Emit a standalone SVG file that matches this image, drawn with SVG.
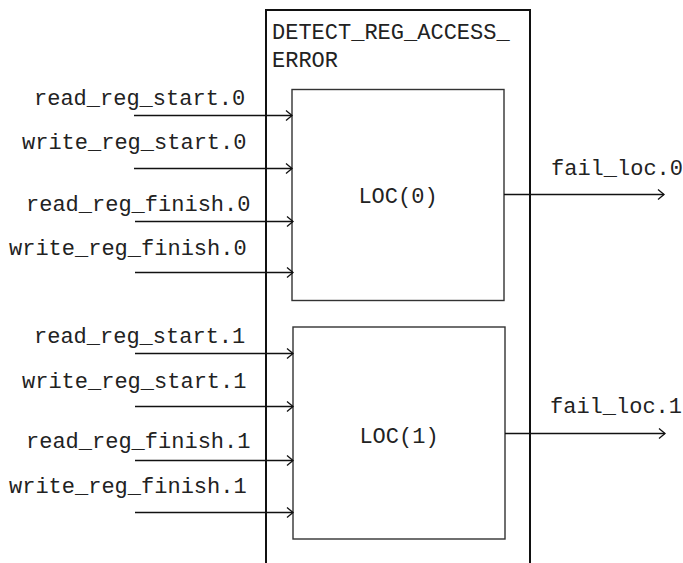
<svg xmlns="http://www.w3.org/2000/svg" width="683" height="563" viewBox="0 0 683 563">
  <style>
    text { font-family: "Liberation Mono", "Courier New", monospace; font-size: 22px; fill: #222; }
    .outer { fill: none; stroke: #111; stroke-width: 2; }
    .inner { fill: #fff; stroke: #333; stroke-width: 1.4; }
    .wire { fill: none; stroke: #111; stroke-width: 1.3; marker-end: url(#arrow); }
  </style>
  <defs>
    <marker id="arrow" markerWidth="10" markerHeight="12" refX="8" refY="6" orient="auto" markerUnits="userSpaceOnUse">
      <path d="M2,1 L8,6 L2,11" fill="none" stroke="#111" stroke-width="1.3"/>
    </marker>
  </defs>

  <!-- enclosing block, open at the bottom -->
  <g id="detect_reg_access_error">
    <path class="outer" d="M266,563 V10 H530 V563"/>
    <text x="272" y="39">DETECT_REG_ACCESS_</text>
    <text x="272" y="67">ERROR</text>
  </g>

  <g id="loc0">
    <rect class="inner" x="292" y="89.5" width="212" height="211"/>
    <text x="398" y="203" text-anchor="middle">LOC(0)</text>
  </g>

  <g id="loc1">
    <rect class="inner" x="293" y="327" width="212" height="212"/>
    <text x="399" y="443" text-anchor="middle">LOC(1)</text>
  </g>

  <!-- signal labels -->
  <g id="labels">
    <text x="34" y="105">read_reg_start.0</text>
    <text x="22" y="149">write_reg_start.0</text>
    <text x="26" y="211">read_reg_finish.0</text>
    <text x="9" y="255">write_reg_finish.0</text>
    <text x="551" y="175">fail_loc.0</text>

    <text x="34" y="343">read_reg_start.1</text>
    <text x="22" y="388">write_reg_start.1</text>
    <text x="26" y="448">read_reg_finish.1</text>
    <text x="9" y="493">write_reg_finish.1</text>
    <text x="550" y="413">fail_loc.1</text>
  </g>

  <g id="connectors">
    <line class="wire" x1="134" y1="115.5" x2="292" y2="115.5"/>
    <line class="wire" x1="134" y1="168.5" x2="292" y2="168.5"/>
    <line class="wire" x1="135" y1="221.5" x2="293" y2="221.5"/>
    <line class="wire" x1="135" y1="272.5" x2="293" y2="272.5"/>
    <line class="wire" x1="504" y1="194.5" x2="664" y2="194.5"/>

    <line class="wire" x1="135" y1="353.5" x2="293" y2="353.5"/>
    <line class="wire" x1="135" y1="406.5" x2="293" y2="406.5"/>
    <line class="wire" x1="135" y1="460.5" x2="293" y2="460.5"/>
    <line class="wire" x1="135" y1="512.5" x2="293" y2="512.5"/>
    <line class="wire" x1="505" y1="433.5" x2="665" y2="433.5"/>
  </g>
</svg>
